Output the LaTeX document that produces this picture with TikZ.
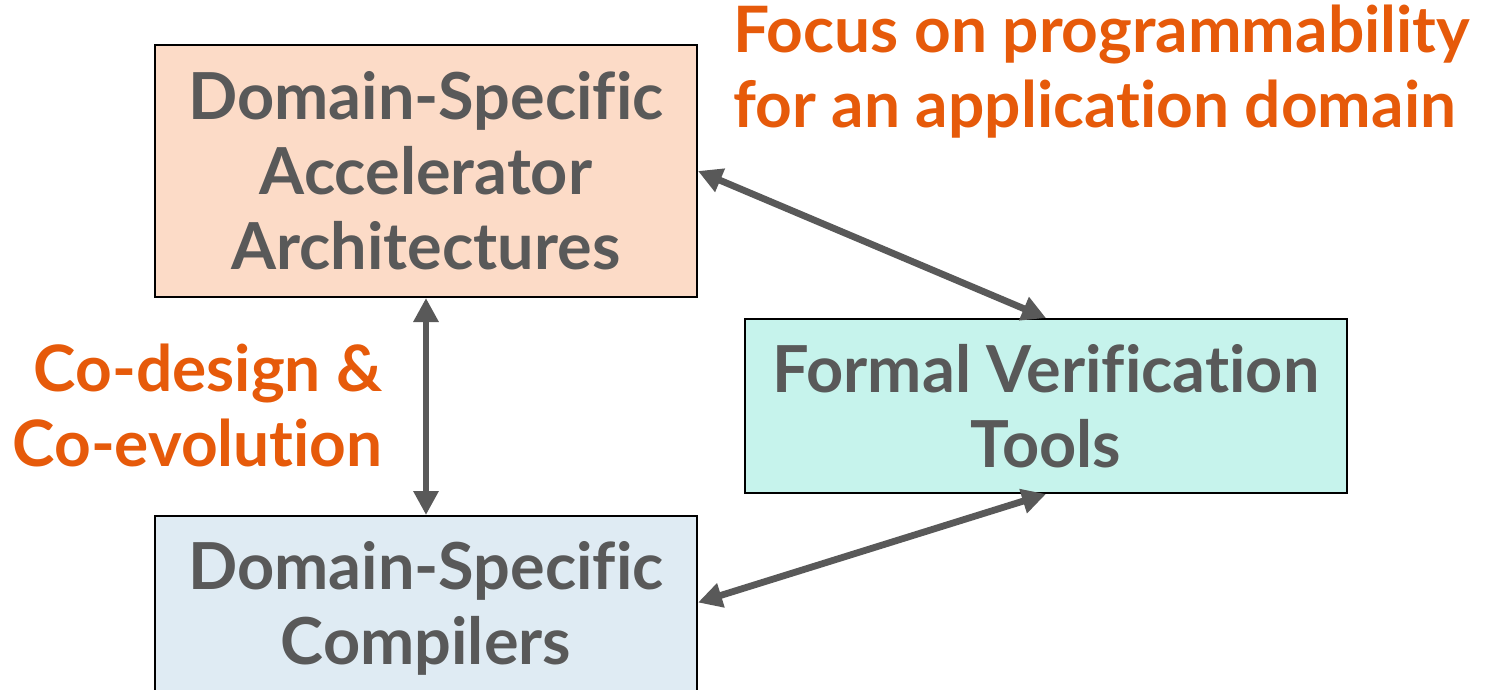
\documentclass[tikz,border=0pt]{standalone}
\usepackage{fontspec}
\setmainfont{Lato}[Ligatures={NoCommon}]
\usetikzlibrary{arrows.meta,calc}

\definecolor{boxtext}{HTML}{595959}
\definecolor{accent}{HTML}{E65A0A}
\definecolor{peach}{HTML}{FCDBC7}
\definecolor{mint}{HTML}{C6F3EC}
\definecolor{paleblue}{HTML}{DFEBF3}
\definecolor{linkgray}{HTML}{595959}

\tikzset{
  block/.style={draw=black, line width=1pt, inner sep=0pt,
    text=boxtext, align=center,
    font=\fontsize{32.4}{37.5}\selectfont\bfseries},
  note/.style={text=accent, inner sep=0pt,
    font=\fontsize{32}{37}\selectfont\bfseries},
  link/.style={draw=linkgray, line width=3.4pt,
    {Triangle[length=12pt,width=12pt]}-{Triangle[length=12pt,width=12pt]}}
}

\begin{document}
\begin{tikzpicture}[x=0.5pt,y=-0.5pt]
  \path[use as bounding box, clip] (0,0) rectangle (1488,690);

  % the three blocks
  \node[block, fill=peach, minimum width=271pt, minimum height=126pt]
    (arch) at (426,171) {Domain-Specific\\Accelerator\\Architectures};
  \node[block, fill=mint, minimum width=301pt, minimum height=87pt]
    (verif) at (1046,406) {Formal Verification\\Tools};
  \node[block, fill=paleblue, minimum width=271pt, minimum height=92.5pt]
    (comp) at (426,608.5) {Domain-Specific\\Compilers};

  % orange annotations
  \node[note, anchor=base west] (focusA) at (733,53) {Focus on programmability};
  \node[note, anchor=base west] (focusB) at (733,127) {for an application domain};
  \node[note, anchor=base east] (codesA) at (383,391) {Co-design \&};
  \node[note, anchor=base east] (codesB) at (383,466) {Co-evolution};

  % two-way links between the blocks
  \draw[link] (arch.south) -- (comp.north);
  \draw[link] (arch.east) -- (verif.north);
  \draw[link] ($(comp.east)+(0,-6)$) -- (verif.south);
\end{tikzpicture}
\end{document}
